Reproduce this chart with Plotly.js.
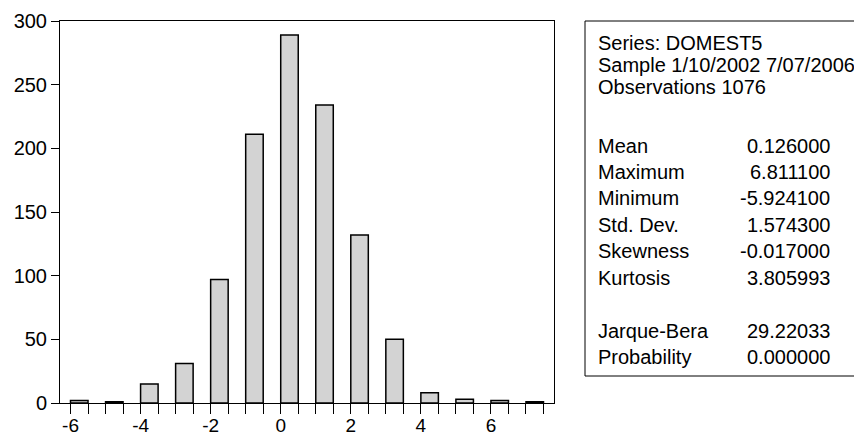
<!DOCTYPE html>
<html>
<head>
<meta charset="utf-8">
<script src="https://cdn.plot.ly/plotly-3.0.1.min.js"></script>
<style>
  html, body { margin: 0; padding: 0; background: #ffffff; }
  #chart { width: 854px; height: 438px; }
</style>
</head>
<body>
<div id="chart"></div>
<script>
// ---- data ----
const binStarts = [-6, -5, -4, -3, -2, -1, 0, 1, 2, 3, 4, 5, 6, 7];
const counts    = [2, 1, 15, 31, 97, 211, 289, 234, 132, 50, 8, 3, 2, 1];
const binWidth  = 0.5;
const xTickVals = [-6, -5.5, -5, -4.5, -4, -3.5, -3, -2.5, -2, -1.5, -1, -0.5, 0, 0.5, 1, 1.5, 2, 2.5, 3, 3.5, 4, 4.5, 5, 5.5, 6, 6.5, 7, 7.5];
const xLabelVals = [-6, -4, -2, 0, 2, 4, 6];
const xLabelText = ['-6', '-4', '-2', '0', '2', '4', '6'];
const yTickVals = [0, 50, 100, 150, 200, 250, 300];
const yTickText = ['0', '50', '100', '150', '200', '250', '300'];

const headerLines = ['Series: DOMEST5', 'Sample 1/10/2002 7/07/2006', 'Observations 1076'];
const statNames  = ['Mean', 'Maximum', 'Minimum', 'Std. Dev.', 'Skewness', 'Kurtosis', 'Jarque-Bera', 'Probability'];
const statValues = ['0.126000', '6.811100', '-5.924100', '1.574300', '-0.017000', '3.805993', '29.22033', '0.000000'];

// ---- layout geometry (pixels) ----
const W = 854, H = 438;
const plotL = 60, plotR = 554, plotT = 21, plotB = 403;
const pw = plotR - plotL, ph = plotB - plotT;
const px2x = p => (p - plotL) / pw;
const py2y = p => (plotB - p) / ph;

const FONT = 'Liberation Sans, Arial, Helvetica, sans-serif';

const barX = binStarts.map(s => s + binWidth / 2);

const trace = {
  type: 'bar',
  x: barX,
  y: counts,
  width: binWidth,
  marker: { color: '#d3d3d3', line: { color: '#000000', width: 1.5 } },
  hoverinfo: 'x+y'
};

const xTickText = xTickVals.map(v => {
  const i = xLabelVals.indexOf(v);
  return i >= 0 ? xLabelText[i] : '';
});

// stats box text positions
const headerY = [43, 65, 87];
const statY   = [146, 172, 198, 225, 251, 278, 331, 357];
const annotations = [];
headerLines.forEach((t, i) => annotations.push({
  xref: 'paper', yref: 'paper', x: px2x(596), y: py2y(headerY[i]),
  xanchor: 'left', yanchor: 'middle', text: t, showarrow: false,
  font: { family: FONT, size: 20, color: '#000' }
}));
statNames.forEach((t, i) => {
  annotations.push({
    xref: 'paper', yref: 'paper', x: px2x(596), y: py2y(statY[i]),
    xanchor: 'left', yanchor: 'middle', text: t, showarrow: false,
    font: { family: FONT, size: 20, color: '#000' }
  });
  annotations.push({
    xref: 'paper', yref: 'paper', x: px2x(832), y: py2y(statY[i]),
    xanchor: 'right', yanchor: 'middle', text: statValues[i], showarrow: false,
    font: { family: FONT, size: 20, color: '#000' }
  });
});

const layout = {
  width: W, height: H,
  margin: { l: plotL, r: W - plotR, t: plotT, b: H - plotB, pad: 0 },
  paper_bgcolor: '#ffffff',
  plot_bgcolor: '#ffffff',
  showlegend: false,
  font: { family: FONT, size: 20, color: '#000' },
  bargap: 0,
  xaxis: {
    range: [-6.3, 7.8],
    tickmode: 'array', tickvals: xTickVals, ticktext: xTickText,
    ticks: 'outside', ticklen: 10, tickwidth: 1, tickcolor: '#000',
    ticklabelstandoff: -5,
    showline: true, linecolor: '#000', linewidth: 1, mirror: true,
    showgrid: false, zeroline: false,
    tickfont: { family: FONT, size: 19, color: '#000' }
  },
  yaxis: {
    range: [0, 300],
    tickmode: 'array', tickvals: yTickVals, ticktext: yTickText,
    ticks: 'outside', ticklen: 8, tickwidth: 1, tickcolor: '#000',
    showline: true, linecolor: '#000', linewidth: 1, mirror: true,
    showgrid: false, zeroline: false,
    tickfont: { family: FONT, size: 20, color: '#000' }
  },
  shapes: [{
    type: 'rect', xref: 'paper', yref: 'paper',
    x0: px2x(585), x1: px2x(880), y0: py2y(376), y1: py2y(21),
    line: { color: '#000', width: 1 }, fillcolor: 'rgba(0,0,0,0)'
  }],
  annotations: annotations
};

Plotly.newPlot('chart', [trace], layout, { displayModeBar: false, staticPlot: true });
</script>
</body>
</html>
